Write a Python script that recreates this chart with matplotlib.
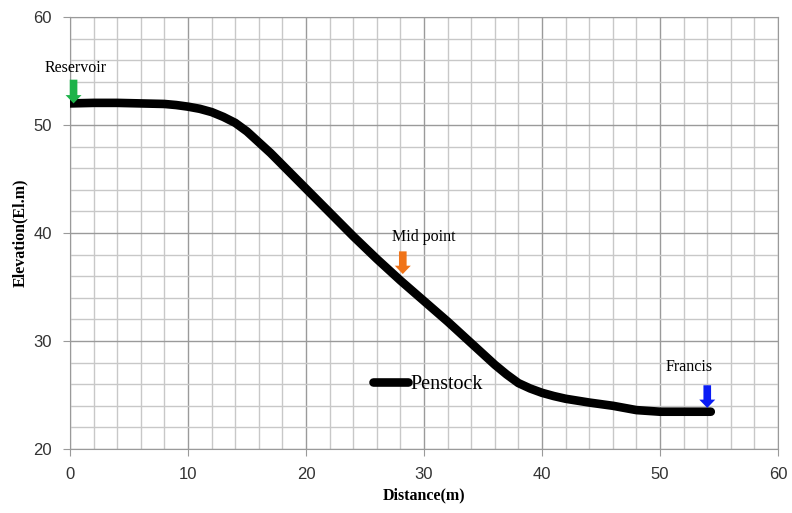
import matplotlib
matplotlib.use("Agg")
import matplotlib.pyplot as plt
from matplotlib.ticker import MultipleLocator

distance = [0, 2, 4, 6, 8, 9, 10, 11, 12, 13, 14, 15, 16, 17, 18, 20, 22, 24, 26, 28, 30, 32, 34, 36, 37, 38, 39, 40, 41, 42, 44, 46, 47, 48, 50, 52, 54.3]
elevation = [52.0, 52.05, 52.05, 52.0, 51.95, 51.85, 51.7, 51.5, 51.2, 50.75, 50.2, 49.4, 48.4, 47.4, 46.3, 44.1, 41.9, 39.7, 37.6, 35.6, 33.7, 31.8, 29.8, 27.8, 26.9, 26.1, 25.6, 25.2, 24.9, 24.65, 24.3, 24.0, 23.8, 23.6, 23.45, 23.45, 23.45]

ann_labels = ["Reservoir", "Mid point", "Francis"]
ann_x = [0.3, 28.2, 54.0]
ann_tip_y = [52.0, 36.2, 23.8]
ann_tail_y = [54.2, 38.3, 25.9]
ann_text_x = [0.5, 30.0, 52.5]
ann_text_y = [55.3, 39.6, 27.6]
ann_colors = ["#1db34a", "#f07318", "#0a1cf5"]

fig = plt.figure(figsize=(7.92, 5.13), dpi=100)
ax = fig.add_axes([0.0884, 0.1248, 0.894, 0.842])

ax.plot(distance, elevation, color="black", lw=6.2, solid_capstyle="round",
        solid_joinstyle="round", label="Penstock", zorder=3)

for lab, x, ty, tl, tx, tyy, c in zip(ann_labels, ann_x, ann_tip_y, ann_tail_y,
                                      ann_text_x, ann_text_y, ann_colors):
    ax.annotate("", xy=(x, ty), xytext=(x, tl),
                arrowprops=dict(arrowstyle="simple,head_length=0.6,head_width=1.15,tail_width=0.55",
                                color=c, lw=0, shrinkA=0, shrinkB=0), zorder=4)
    ax.text(tx, tyy, lab, ha="center", va="center", family="Liberation Serif",
            fontsize=11.5, color="black", zorder=5)

ax.set_xlim(0, 60)
ax.set_ylim(20, 60)
ax.xaxis.set_major_locator(MultipleLocator(10))
ax.yaxis.set_major_locator(MultipleLocator(10))
ax.xaxis.set_minor_locator(MultipleLocator(2))
ax.yaxis.set_minor_locator(MultipleLocator(2))
ax.grid(which="major", color="#9a9a9a", lw=1.0, zorder=0)
ax.grid(which="minor", color="#c8c8c8", lw=1.0, zorder=0)
ax.set_axisbelow(True)
for s in ax.spines.values():
    s.set_color("#9a9a9a")
ax.tick_params(which="major", length=5, color="#9a9a9a", labelsize=12,
               labelcolor="#333333", pad=8)
ax.tick_params(which="minor", length=0)
for lbl in ax.get_xticklabels() + ax.get_yticklabels():
    lbl.set_family("Liberation Sans")

ax.set_xlabel("Distance(m)", family="Liberation Serif", fontweight="bold", fontsize=11.5, labelpad=4)
ax.set_ylabel("Elevation(El.m)", family="Liberation Serif", fontweight="bold", fontsize=11.5, labelpad=4)

leg = ax.legend(loc="center", bbox_to_anchor=(0.505, 0.149), frameon=False,
                prop={"family": "Liberation Serif", "size": 14.5},
                handlelength=1.75, handletextpad=0.1)
leg.get_lines()[0].set_solid_capstyle("round")

fig.savefig("out.png", dpi=100)
